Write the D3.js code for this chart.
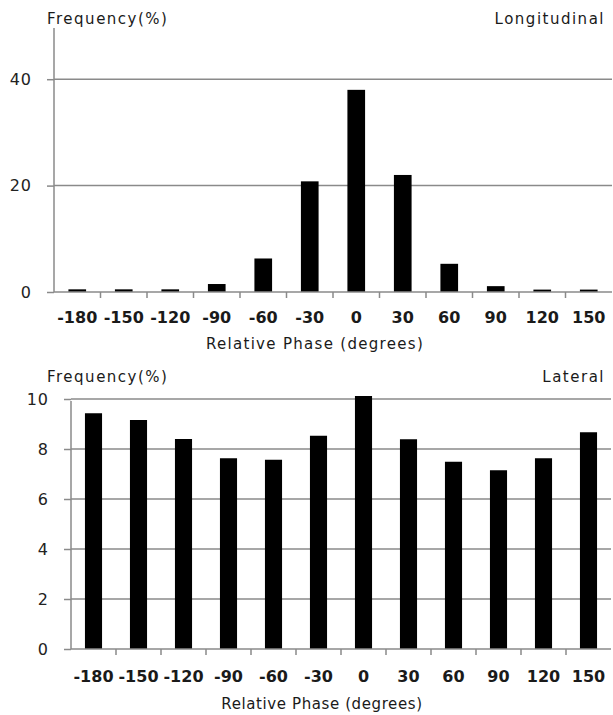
<!DOCTYPE html>
<html>
<head>
<meta charset="utf-8">
<script src="https://cdn.jsdelivr.net/npm/d3@7"></script>
<style>
  html, body { margin: 0; padding: 0; background: #fff; }
  svg { display: block; }
  text { font-family: "DejaVu Sans", sans-serif; fill: #1a1a1a; }
</style>
</head>
<body>
<svg id="chart" width="613" height="715"></svg>
<script>
// Relative phase categories (degrees)
const phases = ["-180", "-150", "-120", "-90", "-60", "-30", "0", "30", "60", "90", "120", "150"];

// Frequency (%) of each relative phase
const longitudinal = [0.5, 0.5, 0.5, 1.5, 6.3, 20.8, 38.0, 22.0, 5.3, 1.1, 0.45, 0.45];
const lateral = [9.43, 9.16, 8.4, 7.63, 7.57, 8.53, 10.12, 8.39, 7.49, 7.15, 7.63, 8.67];

// Y axis ticks for each panel
const longTicks = [0, 20, 40];
const latTicks = [0, 2, 4, 6, 8, 10];

const svg = d3.select("#chart");

function panel(cfg) {
  const g = svg.append("g");
  const x = d3.scaleBand()
    .domain(phases)
    .range([cfg.left, cfg.right])
    .paddingInner(0.62)
    .paddingOuter(0.31);
  const y = d3.scaleLinear().domain(cfg.domain).range([cfg.bottom, cfg.top]);
  const step = x.step();
  const gray = "#8a8a8a";

  // horizontal gridlines
  g.selectAll("line.grid")
    .data(cfg.ticks.filter(d => d > 0))
    .join("line")
    .attr("x1", cfg.left).attr("x2", cfg.right)
    .attr("y1", d => y(d)).attr("y2", d => y(d))
    .attr("stroke", gray).attr("stroke-width", 1.5);

  // bars
  g.selectAll("rect.bar")
    .data(cfg.values)
    .join("rect")
    .attr("x", (d, i) => x(phases[i]))
    .attr("width", x.bandwidth())
    .attr("y", d => y(d))
    .attr("height", d => y(0) - y(d))
    .attr("fill", "#000");

  // y axis
  const yAxis = d3.axisLeft(y).tickValues(cfg.ticks).tickSize(7).tickPadding(15).tickFormat(d3.format("d"));
  const ya = g.append("g").attr("transform", `translate(${cfg.left},0)`).call(yAxis);
  ya.select(".domain").attr("stroke", gray).attr("stroke-width", 1.5)
    .attr("d", `M-0,${y(cfg.domain[1]) + 2}V${y(0)}`);
  ya.selectAll(".tick line").attr("stroke", gray).attr("stroke-width", 1.5);
  ya.selectAll(".tick text")
    .style("font-size", "16px")
    .style("letter-spacing", "1px")
    .style("fill", "#222")
    .style("font-family", "DejaVu Sans, sans-serif");

  // x axis baseline
  g.append("line")
    .attr("x1", cfg.left).attr("x2", cfg.right)
    .attr("y1", y(0)).attr("y2", y(0))
    .attr("stroke", gray).attr("stroke-width", 1.5);

  // tick marks between categories
  g.selectAll("line.xt")
    .data(phases.slice(1))
    .join("line")
    .attr("x1", d => x(d) - step * 0.31)
    .attr("x2", d => x(d) - step * 0.31)
    .attr("y1", y(0)).attr("y2", y(0) + 6)
    .attr("stroke", gray).attr("stroke-width", 1.5);

  // category labels
  g.selectAll("text.xl")
    .data(phases)
    .join("text")
    .attr("x", d => x(d) + x.bandwidth() / 2)
    .attr("y", y(0) + cfg.labelOffset)
    .attr("text-anchor", "middle")
    .style("font-size", "16px")
    .style("font-weight", "bold")
    .text(d => d);

  // axis title
  g.append("text")
    .attr("x", cfg.titleX)
    .attr("y", y(0) + cfg.titleOffset)
    .attr("text-anchor", "middle")
    .style("font-size", "15px")
    .style("letter-spacing", cfg.titleSpacing)
    .text("Relative Phase (degrees)");

  // y label and panel name
  g.append("text")
    .attr("x", 47).attr("y", cfg.headY)
    .style("font-size", "15px")
    .style("letter-spacing", "1.5px")
    .text("Frequency(%)");
  g.append("text")
    .attr("x", 605).attr("y", cfg.headY)
    .attr("text-anchor", "end")
    .style("font-size", "15px")
    .style("letter-spacing", "1.5px")
    .text(cfg.name);
}

panel({
  values: longitudinal, ticks: longTicks, domain: [0, 50],
  left: 54, right: 612, top: 26, bottom: 292,
  labelOffset: 31, titleOffset: 57, titleX: 315, titleSpacing: "1.3px",
  headY: 24, name: "Longitudinal"
});

panel({
  values: lateral, ticks: latTicks, domain: [0, 10],
  left: 71, right: 611, top: 399, bottom: 649,
  labelOffset: 33, titleOffset: 60, titleX: 322, titleSpacing: "0.6px",
  headY: 382, name: "Lateral"
});
</script>
</body>
</html>
